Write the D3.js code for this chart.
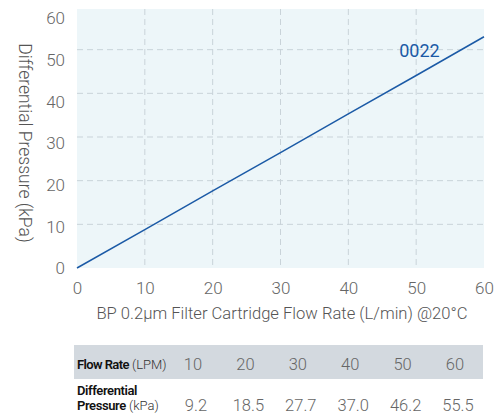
<!DOCTYPE html>
<html>
<head>
<meta charset="utf-8">
<script src="https://cdn.jsdelivr.net/npm/d3@7"></script>
<style>
  body { margin: 0; background: #fff; }
  text { font-family: Roboto, "Liberation Sans", sans-serif; }
</style>
</head>
<body>
<script>
// table / curve data
const flowRates = [0, 10, 20, 30, 40, 50, 60];
const pressures = [0, 9.2, 18.5, 27.7, 37.0, 46.2, 55.5];
const tableFlow = ["10", "20", "30", "40", "50", "60"];
const tablePressure = ["9.2", "18.5", "27.7", "37.0", "46.2", "55.5"];
const xTicks = [0, 10, 20, 30, 40, 50, 60];
const yTicks = [0, 10, 20, 30, 40, 50, 60];
const gridTicks = [10, 20, 30, 40, 50];
const seriesName = "0022";

const width = 504, height = 416;
const plot = {left: 77, right: 484, top: 9, bottom: 268};

const x = d3.scaleLinear().domain([0, 60]).range([plot.left, plot.right]);
const y = d3.scaleLinear().domain([0, 60]).range([plot.bottom, 18]);
const yGrid = d3.scaleLinear().domain([0, 60]).range([plot.bottom, 6]);

const svg = d3.select("body").append("svg")
    .attr("width", width)
    .attr("height", height);

svg.append("rect")
    .attr("x", plot.left)
    .attr("y", plot.top)
    .attr("width", plot.right - plot.left)
    .attr("height", plot.bottom - plot.top)
    .attr("fill", "#edf6f9");

// dashed grid
svg.append("g").selectAll("line.h")
    .data(gridTicks)
    .join("line")
    .attr("x1", plot.left).attr("x2", plot.right)
    .attr("y1", d => yGrid(d)).attr("y2", d => yGrid(d))
    .attr("stroke", "#c9d3d9")
    .attr("stroke-width", 1)
    .attr("stroke-dasharray", "6,4");

svg.append("g").selectAll("line.v")
    .data(gridTicks)
    .join("line")
    .attr("x1", d => x(d)).attr("x2", d => x(d))
    .attr("y1", plot.top).attr("y2", plot.bottom)
    .attr("stroke", "#c9d3d9")
    .attr("stroke-width", 1)
    .attr("stroke-dasharray", "6,4");

// axes (labels only)
const xAxis = d3.axisBottom(x).tickValues(xTicks).tickSize(0).tickPadding(0);
const yAxis = d3.axisLeft(y).tickValues(yTicks).tickSize(0).tickPadding(0);

const gx = svg.append("g")
    .attr("transform", "translate(0," + (plot.bottom + 14) + ")")
    .call(xAxis);
gx.select(".domain").remove();
gx.selectAll("text")
    .attr("font-size", 17)
    .attr("font-weight", 300)
    .attr("fill", "#666");

const gy = svg.append("g")
    .attr("transform", "translate(" + (plot.left - 12) + ",0)")
    .call(yAxis);
gy.select(".domain").remove();
gy.selectAll("text")
    .attr("dy", "0.35em")
    .attr("font-size", 17)
    .attr("font-weight", 300)
    .attr("fill", "#666");

// axis titles
svg.append("text")
    .attr("transform", "translate(25,143) rotate(90)")
    .attr("text-anchor", "middle")
    .attr("dy", "0.35em")
    .attr("font-size", 17.5)
    .attr("font-weight", 300)
    .attr("fill", "#555")
    .text("Differential Pressure (kPa)");

svg.append("text")
    .attr("x", 282)
    .attr("y", 319)
    .attr("text-anchor", "middle")
    .attr("font-size", 16.6)
    .attr("font-weight", 300)
    .attr("fill", "#555")
    .text("BP 0.2µm Filter Cartridge Flow Rate (L/min) @20°C");

// curve
const line = d3.line()
    .x((d, i) => x(flowRates[i]))
    .y(d => y(d));

svg.append("path")
    .datum(pressures)
    .attr("d", line)
    .attr("fill", "none")
    .attr("stroke", "#1b5aa6")
    .attr("stroke-width", 1.5);

svg.append("text")
    .attr("x", x(47.5))
    .attr("y", 57)
    .attr("font-size", 18)
    .attr("fill", "#1b5aa6")
    .text(seriesName);

// table under the chart
const col = d3.scalePoint().domain(tableFlow).range([193, 455]);

svg.append("rect")
    .attr("x", 74).attr("y", 345)
    .attr("width", 409).attr("height", 34)
    .attr("fill", "#d3d9df");

const r1 = svg.append("text").attr("x", 77).attr("y", 369).attr("fill", "#111");
r1.append("tspan").attr("font-size", 13).attr("font-weight", 600)
    .attr("letter-spacing", -0.6).text("Flow Rate");
r1.append("tspan").attr("font-size", 13).attr("font-weight", 300)
    .attr("fill", "#333").text(" (LPM)");

svg.append("text").attr("x", 77).attr("y", 395)
    .attr("font-size", 13).attr("font-weight", 600).attr("letter-spacing", -0.4)
    .attr("fill", "#111").text("Differential");
const r2 = svg.append("text").attr("x", 77).attr("y", 410).attr("fill", "#111");
r2.append("tspan").attr("font-size", 13).attr("font-weight", 600)
    .attr("letter-spacing", -0.4).text("Pressure");
r2.append("tspan").attr("font-size", 13).attr("font-weight", 300)
    .attr("fill", "#333").text("  (kPa)");

svg.append("g").selectAll("text")
    .data(tableFlow)
    .join("text")
    .attr("x", d => col(d))
    .attr("y", 370)
    .attr("text-anchor", "middle")
    .attr("font-size", 16.5)
    .attr("font-weight", 300)
    .attr("fill", "#666")
    .text(d => d);

svg.append("g").selectAll("text")
    .data(tablePressure)
    .join("text")
    .attr("x", (d, i) => col(tableFlow[i]) + 3)
    .attr("y", 411)
    .attr("text-anchor", "middle")
    .attr("font-size", 16.5)
    .attr("font-weight", 300)
    .attr("fill", "#666")
    .text(d => d);
</script>
</body>
</html>
